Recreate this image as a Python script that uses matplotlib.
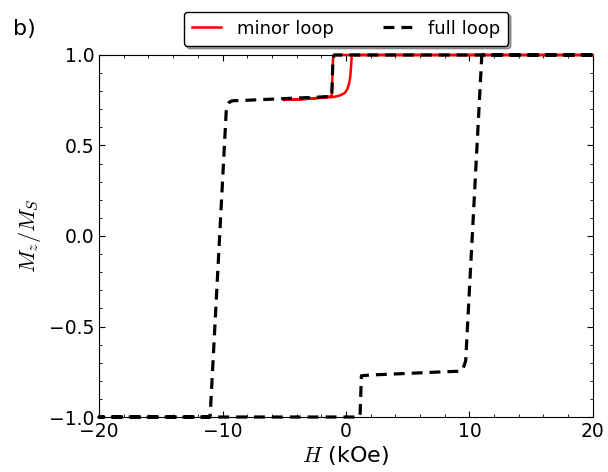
import matplotlib
matplotlib.use('Agg')
import matplotlib.pyplot as plt
import numpy as np

# 全回线: 下降支 (H 从 20 到 -20)
full_down_H = [20, -0.95, -1.05, -1.15, -2, -4, -6, -8, -9.2, -9.45, -9.7, -11.0, -11.1, -20]
full_down_M = [1.0, 1.0, 0.98, 0.772, 0.768, 0.762, 0.756, 0.750, 0.747, 0.74, 0.69, -0.99, -1.0, -1.0]
# 全回线: 上升支 (H 从 -20 到 20)
full_up_H = [-20, 1.05, 1.15, 1.25, 2, 4, 6, 8, 9.2, 9.45, 9.7, 11.0, 11.1, 20]
full_up_M = [-1.0, -1.0, -0.98, -0.772, -0.768, -0.762, -0.756, -0.750, -0.747, -0.74, -0.69, 0.99, 1.0, 1.0]

# 小回线
minor_up_H = [-5, -3, -1, -0.5, -0.1, 0.1, 0.25, 0.35, 0.42, 0.47, 20]
minor_up_M = [0.752, 0.758, 0.768, 0.776, 0.79, 0.81, 0.84, 0.88, 0.94, 1.0, 1.0]
minor_down_H = [20, -0.95, -1.05, -1.15, -3, -5]
minor_down_M = [1.0, 1.0, 0.98, 0.772, 0.758, 0.752]

plt.rcParams['mathtext.fontset'] = 'cm'
plt.rcParams['font.family'] = 'DejaVu Sans'

fig = plt.figure(figsize=(6.08, 4.72), dpi=100)
ax = fig.add_axes([0.163, 0.1165, 0.812, 0.767])

ax.plot(minor_up_H + minor_down_H, minor_up_M + minor_down_M, color='red', lw=1.8,
        label='minor loop', clip_on=False, zorder=3)
ax.plot(full_down_H + full_up_H, full_down_M + full_up_M, color='black', lw=2.3,
        linestyle=(0, (3.4, 2.2)), label='full loop', clip_on=False, zorder=4)

ax.set_xlim(-20, 20)
ax.set_ylim(-1, 1)
ax.set_xticks([-20, -10, 0, 10, 20])
ax.set_yticks([-1.0, -0.5, 0.0, 0.5, 1.0])
ax.set_xticks(np.arange(-20, 21, 2), minor=True)
ax.set_yticks(np.arange(-1.0, 1.01, 0.1), minor=True)
ax.tick_params(which='both', direction='in', top=True, right=True, labelsize=13.5)
ax.tick_params(which='major', length=4.5, width=0.8)
ax.tick_params(which='minor', length=2.2, width=0.6)

ax.set_xlabel('$H$ (kOe)', fontsize=16, labelpad=2)
ax.set_ylabel('$M_z/M_S$', fontsize=16, labelpad=4)

leg = ax.legend(loc='lower center', bbox_to_anchor=(0.5, 1.025), ncol=2, fontsize=13,
                fancybox=True, shadow=True, framealpha=1, edgecolor='black',
                handlelength=1.6, handletextpad=0.9, columnspacing=2.7,
                borderaxespad=0, borderpad=0.45)
leg.get_frame().set_linewidth(1.0)

fig.text(0.022, 0.925, 'b)', fontsize=16, va='baseline')

fig.savefig('out.png', dpi=100)
